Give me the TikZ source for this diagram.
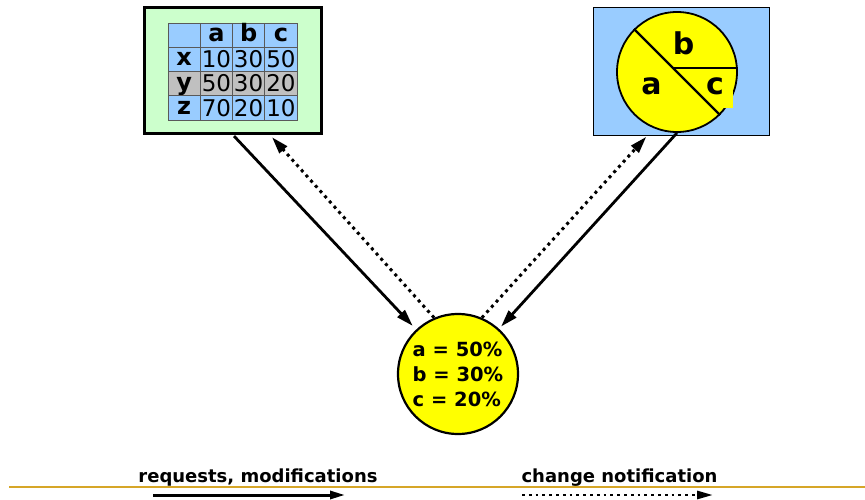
\documentclass[tikz,border=0pt]{standalone}
\usepackage{fontspec}
\setmainfont{DejaVu Sans}
\usetikzlibrary{arrows.meta,calc}
\definecolor{boxgreen}{RGB}{204,255,204}
\definecolor{boxblue}{RGB}{153,204,255}
\definecolor{cellgray}{RGB}{192,192,192}
\definecolor{goldrule}{RGB}{214,166,40}
\definecolor{pieyellow}{RGB}{255,255,0}
\begin{document}
\begin{tikzpicture}[x=1pt,y=-1pt,
  tcell/.style={draw=black!65,line width=0.7pt,minimum width=32.25pt,minimum height=24.25pt,inner sep=0pt,fill=boxblue},
  numcell/.style={tcell,font=\fontsize{23}{23}\selectfont,text height=16.8pt,text depth=0pt},
  hdrcell/.style={tcell,font=\bfseries\fontsize{24}{24}\selectfont,text height=13pt,text depth=0pt},
  graycell/.style={fill=cellgray},
  reqarrow/.style={line width=2.8pt,-{Triangle[length=17pt,width=10pt]}},
  notifarrow/.style={line width=3pt,dash pattern=on 3pt off 4pt,-{Triangle[length=17pt,width=10pt]}},
  legreq/.style={line width=3pt,-{Triangle[length=15pt,width=8pt]}},
  legnotif/.style={line width=2.8pt,dash pattern=on 2.8pt off 4pt,-{Triangle[length=16pt,width=8pt]}},
  pielabel/.style={font=\bfseries\fontsize{30}{30}\selectfont,inner sep=0pt,anchor=base},
  legendtext/.style={font=\bfseries\fontsize{18}{20}\selectfont,inner sep=0pt,anchor=base},
  goldline/.style={draw=goldrule,line width=2.5pt}]
\useasboundingbox (0,0) rectangle (865,500);

% left box with table
\node[draw,line width=3pt,fill=boxgreen,minimum width=177pt,minimum height=126pt,inner sep=0pt] (L) at (233,70.5) {};
\node[hdrcell] (t00) at (184.1,35.1) {};
\node[hdrcell] (t01) at (216.4,35.1) {a};
\node[hdrcell] (t02) at (248.6,35.1) {b};
\node[hdrcell] (t03) at (280.9,35.1) {c};
\node[hdrcell] (t10) at (184.1,59.4) {x};
\node[numcell] (t11) at (216.4,59.4) {10};
\node[numcell] (t12) at (248.6,59.4) {30};
\node[numcell] (t13) at (280.9,59.4) {50};
\node[hdrcell,graycell] (t20) at (184.1,83.6) {y};
\node[numcell,graycell] (t21) at (216.4,83.6) {50};
\node[numcell,graycell] (t22) at (248.6,83.6) {30};
\node[numcell,graycell] (t23) at (280.9,83.6) {20};
\node[hdrcell] (t30) at (184.1,107.9) {z};
\node[numcell] (t31) at (216.4,107.9) {70};
\node[numcell] (t32) at (248.6,107.9) {20};
\node[numcell] (t33) at (280.9,107.9) {10};

% right box with pie
\node[draw,line width=1pt,fill=boxblue,minimum width=176pt,minimum height=128pt,inner sep=0pt] (R) at (681.5,71.5) {};
\node[circle,draw,line width=1.8pt,fill=pieyellow,minimum size=120pt,inner sep=0pt] (P) at (677,72) {};
\draw[line width=2.2pt] (P.135) -- (P.-45);
\draw[line width=2.2pt] ($(P.center)+(-4,-4)$) -- ($(P.east)+(0,-4)$);
\fill[pieyellow] (721,89) rectangle (733.2,108);
\node[pielabel] (pb) at (683.5,55) {b};
\node[pielabel] (pa) at (651.5,95) {a};
\node[pielabel] (pc) at (715,95) {c};

% centre circle
\node[circle,draw,line width=2.2pt,fill=pieyellow,minimum size=120pt,inner sep=0pt,align=left,
      font=\bfseries\fontsize{19.5}{25}\selectfont] (C) at (458,374) {a = 50\%\\b = 30\%\\c = 20\%};

% connectors
\draw[reqarrow,shorten <=1.5pt,shorten >=5pt] (L.south) -- (C);
\draw[notifarrow,shorten >=3pt] (C.113.7) -- ($(L.south)+(37,0)$);
\draw[notifarrow,shorten >=1pt] (C.67.2) -- ($(R.south)+(-34.5,0)$);
\draw[reqarrow,shorten >=3pt] (P.south) -- (C);

% legend
\coordinate (g1) at (9,487);
\coordinate (g2) at (865,487);
\draw[goldline] (g1) -- (g2);
\node[legendtext] (treq) at (258,482) {requests, modifications};
\node[legendtext] (tnot) at (619.5,482) {change notification};
\coordinate (ra) at (153,495);
\coordinate (rb) at (345,495);
\draw[legreq] (ra) -- (rb);
\coordinate (na) at (522,495);
\coordinate (nb) at (713,495);
\draw[legnotif] (na) -- (nb);
\end{tikzpicture}
\end{document}
